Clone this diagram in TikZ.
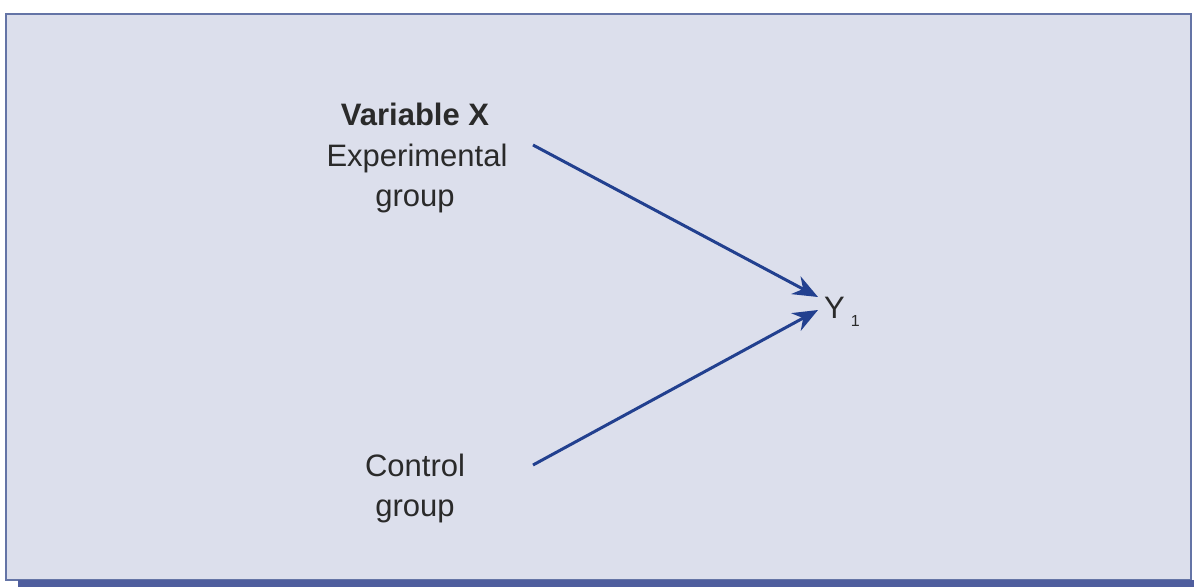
\documentclass[tikz,border=0pt]{standalone}
\usepackage{fontspec}
\setmainfont{Liberation Sans}
\usetikzlibrary{arrows.meta}
\definecolor{bgfill}{HTML}{DCDFEC}
\definecolor{bordc}{HTML}{6474A6}
\definecolor{barc}{HTML}{4F5E9E}
\definecolor{arrc}{HTML}{22408F}
\definecolor{txt}{HTML}{2A2A2A}
\tikzset{
  lbl/.style={text=txt, font=\fontsize{31}{40}\selectfont, align=center, inner sep=0pt},
  conn/.style={draw=arrc, line width=3pt, -{Stealth[length=25pt, width=20pt]}}
}
\begin{document}
\begin{tikzpicture}[x=1pt,y=-1pt]
\useasboundingbox (0,0) rectangle (1194,587);
\fill[white] (0,0) rectangle (1194,587);
\draw[bordc, line width=2.5pt, fill=bgfill] (6,14) rectangle (1191,580);
\fill[barc] (18,580) rectangle (1194,587);
\node[lbl, anchor=base] (vx) at (415,125) {\textbf{Variable X}};
\node[lbl, anchor=base] (exp) at (417,166) {Experimental};
\node[lbl, anchor=base] (grp1) at (415,206) {group};
\node[lbl, anchor=base] (ctl) at (415,476) {Control};
\node[lbl, anchor=base] (grp2) at (415,516) {group};
\node[lbl, anchor=base west] (y) at (824,318) {Y\hspace{6pt}\raisebox{-8pt}{\fontsize{16}{16}\selectfont 1}};
\coordinate (s1) at (533,145);
\coordinate (s2) at (533,465);
\coordinate (t1) at (818,297);
\coordinate (t2) at (818,310);
\draw[conn] (s1) -- (t1);
\draw[conn] (s2) -- (t2);
\end{tikzpicture}
\end{document}
